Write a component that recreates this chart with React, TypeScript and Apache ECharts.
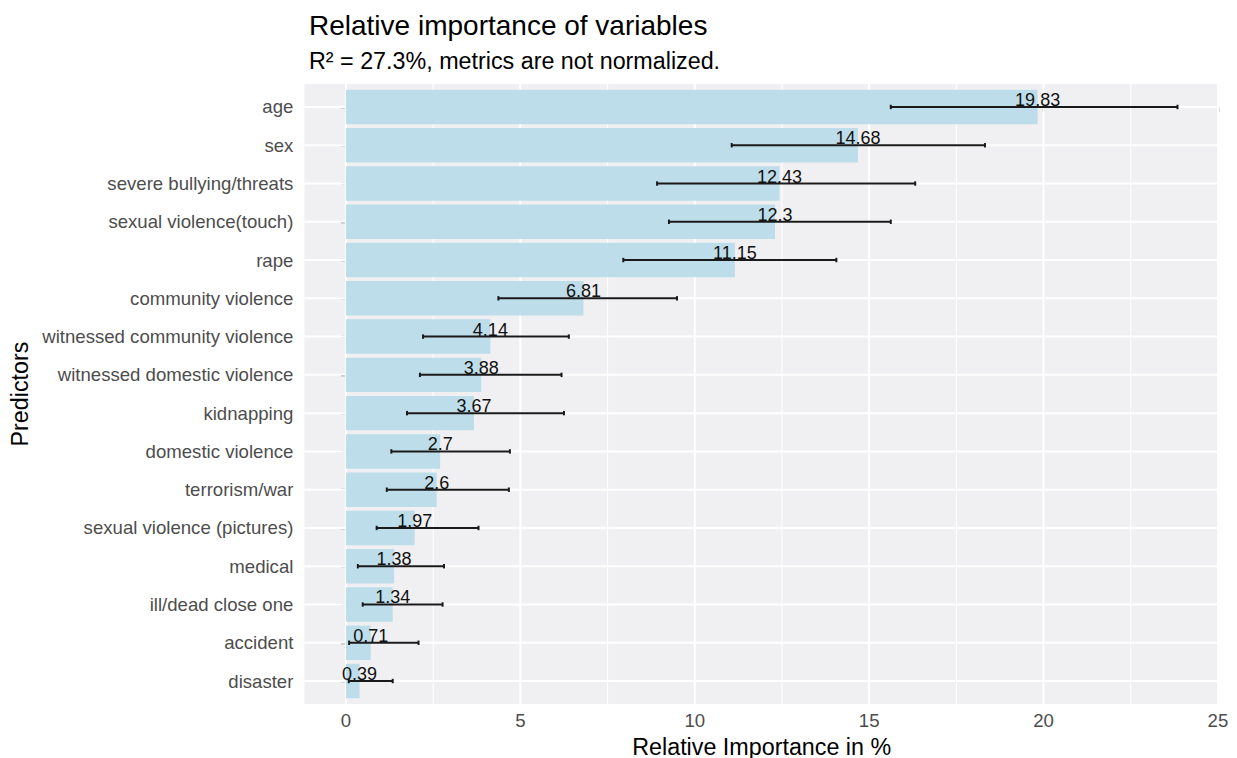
import React, { useEffect, useRef } from "react";
import * as echarts from "echarts";

const predictors = [
  "age",
  "sex",
  "severe bullying/threats",
  "sexual violence(touch)",
  "rape",
  "community violence",
  "witnessed community violence",
  "witnessed domestic violence",
  "kidnapping",
  "domestic violence",
  "terrorism/war",
  "sexual violence (pictures)",
  "medical",
  "ill/dead close one",
  "accident",
  "disaster",
];
const importance = [19.83, 14.68, 12.43, 12.3, 11.15, 6.81, 4.14, 3.88, 3.67, 2.7, 2.6, 1.97, 1.38, 1.34, 0.71, 0.39];
const ciLower = [15.62, 11.06, 8.92, 9.26, 7.95, 4.37, 2.21, 2.12, 1.75, 1.3, 1.17, 0.88, 0.34, 0.48, 0.09, 0.08];
const ciUpper = [23.84, 18.32, 16.32, 15.62, 14.06, 9.49, 6.39, 6.18, 6.25, 4.7, 4.67, 3.8, 2.81, 2.77, 2.08, 1.34];
const xTicks = [0, 5, 10, 15, 20, 25];
const xMinorTicks = [2.5, 7.5, 12.5, 17.5, 22.5];

const FONT = '"Liberation Sans", Arial, Helvetica, sans-serif';
const X_MIN = -1.192;
const X_MAX = 25.03;
const Y_MIN = -0.6;
const Y_MAX = predictors.length - 1 + 0.6;

export default function App() {
  const ref = useRef<HTMLDivElement>(null);

  useEffect(() => {
    if (!ref.current) return;
    const chart = echarts.init(ref.current, null, { renderer: "svg" });
    const idx = predictors.map((_, i) => i);

    const option: any = {
      animation: false,
      backgroundColor: "#ffffff",
      title: [
        {
          text: "Relative importance of variables",
          left: 304,
          top: 6,
          textStyle: { fontSize: 28, fontWeight: "normal", color: "#000000", fontFamily: FONT },
        },
        {
          text: "R² = 27.3%, metrics are not normalized.",
          left: 304,
          top: 44,
          textStyle: { fontSize: 23.3, fontWeight: "normal", color: "#000000", fontFamily: FONT },
        },
      ],
      grid: {
        left: 304.4,
        right: 18,
        top: 84,
        bottom: 54,
        containLabel: false,
        outerBoundsMode: "none",
        show: true,
        backgroundColor: "#f0f0f2",
        borderWidth: 0,
      },
      xAxis: {
        type: "value",
        min: X_MIN,
        max: X_MAX,
        name: "Relative Importance in %",
        nameLocation: "middle",
        nameGap: 31,
        nameTextStyle: { fontSize: 23.3, color: "#000000", fontFamily: FONT },
        axisLine: { show: false },
        splitLine: { show: false },
        axisTick: {
          show: true,
          customValues: xTicks,
          length: 5,
          lineStyle: { color: "#333333", width: 1.3 },
        },
        axisLabel: {
          customValues: xTicks,
          margin: 7,
          fontSize: 18.6,
          color: "#4d4d4d",
          fontFamily: FONT,
        },
      },
      yAxis: {
        type: "value",
        min: Y_MIN,
        max: Y_MAX,
        inverse: true,
        name: "Predictors",
        nameLocation: "middle",
        nameRotate: 90,
        nameGap: 272,
        nameTextStyle: { fontSize: 23.3, color: "#000000", fontFamily: FONT },
        axisLine: { show: false },
        splitLine: { show: false },
        axisTick: {
          show: true,
          customValues: idx,
          length: 5,
          lineStyle: { color: "#333333", width: 1.3 },
        },
        axisLabel: {
          customValues: idx,
          formatter: (v: number) => predictors[Math.round(v)] ?? "",
          margin: 11,
          fontSize: 18.6,
          color: "#4d4d4d",
          fontFamily: FONT,
        },
      },
      series: [
        {
          type: "custom",
          name: "vgrid",
          silent: true,
          z: 1,
          data: [...xTicks.map((v) => [v, 0, 1]), ...xMinorTicks.map((v) => [v, 0, 0])],
          renderItem: (params: any, api: any) => {
            const v = api.value(0);
            const major = api.value(2) === 1;
            const a = api.coord([v, Y_MIN]);
            const b = api.coord([v, Y_MAX]);
            return {
              type: "line",
              shape: { x1: a[0], y1: a[1], x2: b[0], y2: b[1] },
              style: { stroke: "#ffffff", lineWidth: major ? 2 : 1 },
            };
          },
        },
        {
          type: "custom",
          name: "hgrid",
          silent: true,
          z: 1,
          data: idx.map((i) => [0, i]),
          renderItem: (params: any, api: any) => {
            const i = api.value(1);
            const a = api.coord([X_MIN, i]);
            const b = api.coord([X_MAX, i]);
            return {
              type: "line",
              shape: { x1: a[0], y1: a[1], x2: b[0], y2: b[1] },
              style: { stroke: "#ffffff", lineWidth: 2 },
            };
          },
        },
        {
          type: "custom",
          name: "bars",
          z: 2,
          data: importance.map((v, i) => [v, i]),
          renderItem: (params: any, api: any) => {
            const v = api.value(0);
            const i = api.value(1);
            const s = api.coord([0, i]);
            const e = api.coord([v, i]);
            const h = api.size([0, 0.9])[1];
            return {
              type: "rect",
              shape: { x: s[0], y: s[1] - h / 2, width: e[0] - s[0], height: h },
              style: { fill: "#bcdde9" },
            };
          },
        },
        {
          type: "custom",
          name: "errors",
          z: 3,
          data: importance.map((v, i) => [ciLower[i], i, ciUpper[i], v]),
          renderItem: (params: any, api: any) => {
            const lo = api.value(0);
            const i = api.value(1);
            const hi = api.value(2);
            const v = api.value(3);
            const a = api.coord([lo, i]);
            const b = api.coord([hi, i]);
            const c = api.coord([v, i]);
            const cap = 2.2;
            const stroke = "#1a1a1a";
            return {
              type: "group",
              children: [
                {
                  type: "line",
                  shape: { x1: a[0], y1: a[1], x2: b[0], y2: b[1] },
                  style: { stroke, lineWidth: 2 },
                },
                {
                  type: "line",
                  shape: { x1: a[0], y1: a[1] - cap, x2: a[0], y2: a[1] + cap },
                  style: { stroke, lineWidth: 2 },
                },
                {
                  type: "line",
                  shape: { x1: b[0], y1: b[1] - cap, x2: b[0], y2: b[1] + cap },
                  style: { stroke, lineWidth: 2 },
                },
                {
                  type: "text",
                  x: c[0],
                  y: c[1] - 7,
                  style: {
                    text: String(v),
                    fill: "#111111",
                    font: `18px ${FONT}`,
                    textAlign: "center",
                    textVerticalAlign: "middle",
                  },
                },
              ],
            };
          },
        },
      ],
    };

    chart.setOption(option);
    return () => chart.dispose();
  }, []);

  return (
    <div
      ref={ref}
      style={{ position: "fixed", left: 0, top: 0, width: 1237, height: 758, background: "#ffffff" }}
    />
  );
}
